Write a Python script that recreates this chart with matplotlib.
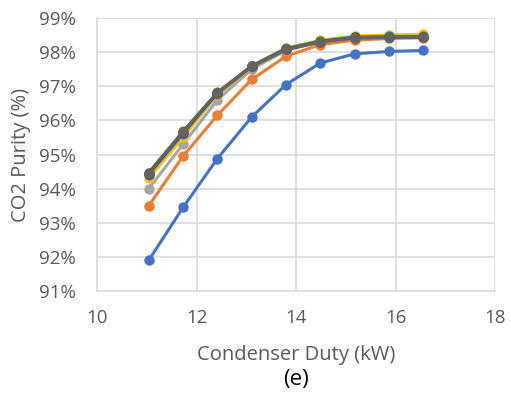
import matplotlib
matplotlib.use("Agg")
import matplotlib.pyplot as plt
from matplotlib.ticker import FuncFormatter

# condenser duty (kW), same for every series
duty = [11.04, 11.73, 12.42, 13.11, 13.80, 14.49, 15.18, 15.87, 16.56]

# CO2 purity (%) per case
s1 = [91.90, 93.45, 94.88, 96.10, 97.05, 97.68, 97.95, 98.02, 98.05]
s2 = [93.50, 94.95, 96.15, 97.20, 97.88, 98.22, 98.35, 98.40, 98.42]
s3 = [94.00, 95.30, 96.60, 97.50, 98.05, 98.30, 98.42, 98.45, 98.45]
s4 = [94.30, 95.50, 96.75, 97.55, 98.10, 98.35, 98.47, 98.50, 98.52]
s5 = [94.40, 95.60, 96.78, 97.57, 98.08, 98.32, 98.44, 98.46, 98.46]
s6 = [94.42, 95.68, 96.82, 97.60, 98.12, 98.33, 98.45, 98.46, 98.46]
s7 = [94.44, 95.64, 96.80, 97.59, 98.09, 98.31, 98.43, 98.44, 98.44]
s8 = [94.46, 95.66, 96.81, 97.58, 98.08, 98.30, 98.42, 98.43, 98.43]
s9 = [94.47, 95.67, 96.81, 97.58, 98.08, 98.30, 98.42, 98.43, 98.43]

series = [s1, s2, s3, s4, s5, s6, s7, s8, s9]
colores = ["#4472C4", "#ED7D31", "#A5A5A5", "#FFC000", "#5B9BD5",
           "#70AD47", "#264478", "#9E480E", "#636363"]

GRIS_TXT = "#595959"
GRID = "#D9D9D9"

plt.rcParams["font.family"] = ["Open Sans", "DejaVu Sans"]

fig = plt.figure(figsize=(5.11, 4.08), dpi=100)
ax = fig.add_axes([97 / 511, 1 - 291 / 408, (495 - 97) / 511, (291 - 18) / 408])

for ys, c in zip(series, colores):
    ax.plot(duty, ys, color=c, linewidth=2.2, marker="o", markersize=7.5,
            markeredgewidth=0, zorder=3)

ax.set_xlim(10, 18)
ax.set_ylim(91, 99)
ax.set_xticks([10, 12, 14, 16, 18])
ax.set_yticks(range(91, 100))
ax.yaxis.set_major_formatter(FuncFormatter(lambda v, p: f"{int(v)}%"))

ax.grid(True, color=GRID, linewidth=1.2, zorder=0)
ax.set_axisbelow(True)
for lado in ["top", "right"]:
    ax.spines[lado].set_visible(False)
for lado in ["left", "bottom"]:
    ax.spines[lado].set_color(GRID)
    ax.spines[lado].set_linewidth(1.2)

ax.tick_params(length=0, labelsize=13.5, colors=GRIS_TXT)
ax.tick_params(axis="y", pad=15)
ax.tick_params(axis="x", pad=13)

ax.set_xlabel("Condenser Duty (kW)", fontsize=14.5, color=GRIS_TXT, labelpad=13)
ax.set_ylabel("CO2 Purity (%)", fontsize=14.5, color=GRIS_TXT, labelpad=6)

fig.text(0.5 * (97 + 495) / 511, 1 - 379 / 408, "(e)", ha="center", va="center",
         fontsize=16, color="black")

fig.savefig("out.png", dpi=100, facecolor="white")
